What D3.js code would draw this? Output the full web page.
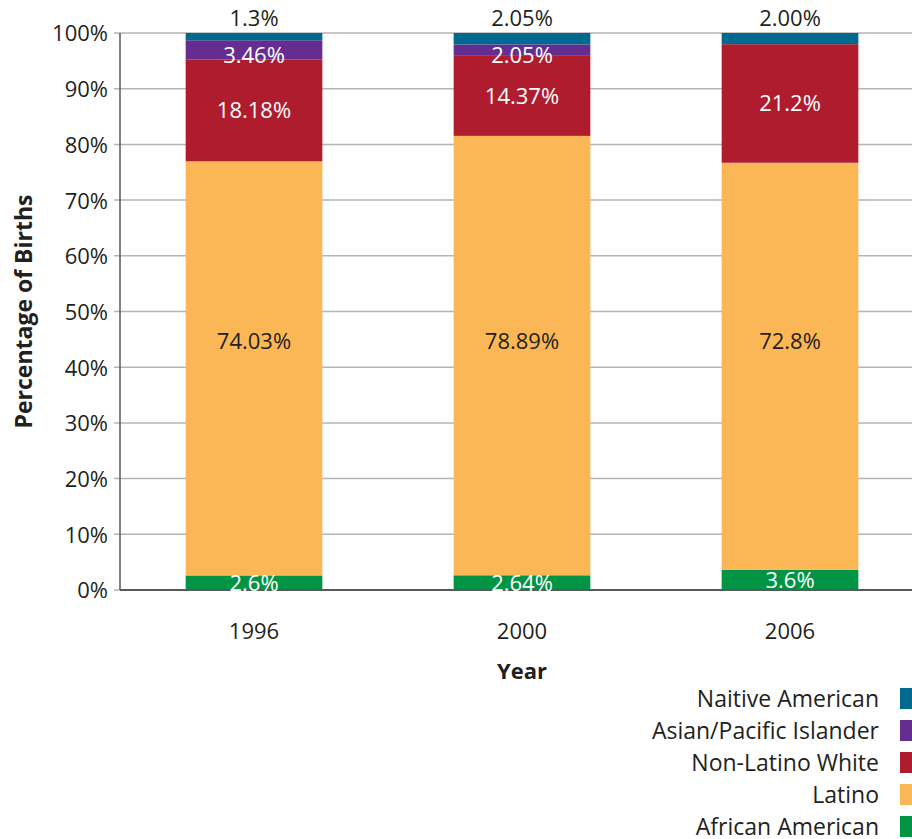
<!DOCTYPE html>
<html>
<head>
<meta charset="utf-8">
<script src="https://cdn.jsdelivr.net/npm/d3@7"></script>
<style>
  body { margin: 0; background: #fff; }
  svg text { font-family: "Open Sans", sans-serif; fill: #231f20; }
</style>
</head>
<body>
<div id="chart"></div>
<script>
let width = 912;
let height = 839;

// data
let years = ["1996", "2000", "2006"];
let groups = ["African American", "Latino", "Non-Latino White", "Asian/Pacific Islander", "Naitive American"];
let colors = ["#009444", "#fbb756", "#ae1c2e", "#662d91", "#00698f"];
let africanAmerican = [2.6, 2.64, 3.6];
let latino = [74.03, 78.89, 72.8];
let nonLatinoWhite = [18.18, 14.37, 21.2];
let asianPacific = [3.46, 2.05, 0];
let nativeAmerican = [1.3, 2.05, 2.0];
let labelAfrican = ["2.6%", "2.64%", "3.6%"];
let labelLatino = ["74.03%", "78.89%", "72.8%"];
let labelWhite = ["18.18%", "14.37%", "21.2%"];
let labelAsian = ["3.46%", "2.05%", ""];
let labelNative = ["1.3%", "2.05%", "2.00%"];
let yTicks = [0, 0.1, 0.2, 0.3, 0.4, 0.5, 0.6, 0.7, 0.8, 0.9, 1];

let margin = {left: 120, top: 33, bottom: 249};

let series = [africanAmerican, latino, nonLatinoWhite, asianPacific, nativeAmerican];
let labels = [labelAfrican, labelLatino, labelWhite, labelAsian, labelNative];

let rows = years.map(function(y, i) {
  let r = {year: y};
  groups.forEach(function(g, k) { r[g] = series[k][i]; });
  return r;
});

// shares of each year's births, so every bar fills to 100%
let stacked = d3.stack().keys(groups).offset(d3.stackOffsetExpand)(rows);

let x = d3.scaleBand()
  .domain(years)
  .range([margin.left, margin.left + 804])
  .paddingInner(0.49)
  .paddingOuter(0.245);

let y = d3.scaleLinear()
  .domain([0, 1])
  .range([height - margin.bottom, margin.top]);

let svg = d3.select("#chart")
  .append("svg")
  .attr("width", width)
  .attr("height", height);

// grid lines
svg.append("g")
  .selectAll("line")
  .data(yTicks)
  .enter().append("line")
    .attr("x1", margin.left - 6)
    .attr("x2", width)
    .attr("y1", function(d) { return y(d); })
    .attr("y2", function(d) { return y(d); })
    .attr("stroke", "#b5b5b5")
    .attr("stroke-width", 1.5);

// y axis
let yAxis = svg.append("g")
  .attr("transform", "translate(" + margin.left + ",0)")
  .call(d3.axisLeft(y).tickValues(yTicks).tickSize(0).tickPadding(12)
    .tickFormat(d3.format(".0%")));
yAxis.select(".domain").remove();
yAxis.selectAll("text")
  .style("font-size", "22px")
  .attr("dy", "0.36em");

// bars
let layer = svg.append("g")
  .selectAll("g")
  .data(stacked)
  .enter().append("g")
    .attr("fill", function(d, i) { return colors[i]; });

layer.selectAll("rect")
  .data(function(d) { return d; })
  .enter().append("rect")
    .attr("x", function(d) { return x(d.data.year); })
    .attr("width", x.bandwidth())
    .attr("y", function(d) { return y(d[1]); })
    .attr("height", function(d) { return y(d[0]) - y(d[1]); });

// axis lines
svg.append("line")
  .attr("x1", margin.left).attr("x2", margin.left)
  .attr("y1", y(1)).attr("y2", y(0))
  .attr("stroke", "#58595b").attr("stroke-width", 1.5);
svg.append("line")
  .attr("x1", margin.left).attr("x2", width)
  .attr("y1", y(0)).attr("y2", y(0))
  .attr("stroke", "#58595b").attr("stroke-width", 2);

// value labels
let labelG = svg.append("g")
  .attr("text-anchor", "middle")
  .style("font-size", "22px");

stacked.forEach(function(s, k) {
  s.forEach(function(d, i) {
    let txt = labels[k][i];
    if (!txt) return;
    let cy;
    let fill = "#fff";
    if (k == 1) {
      cy = y(0.446);
      fill = "#231f20";
    } else if (k == 4) {
      cy = y(d[1]) - 15;
      fill = "#231f20";
    } else if (k == 3) {
      cy = (y(d[0]) + y(d[1])) / 2 + 5;
    } else {
      cy = (y(d[0]) + y(d[1])) / 2;
    }
    labelG.append("text")
      .attr("x", x(d.data.year) + x.bandwidth() / 2)
      .attr("y", cy)
      .attr("dy", "0.36em")
      .style("fill", fill)
      .text(txt);
  });
});

// x axis labels
svg.append("g")
  .selectAll("text")
  .data(years)
  .enter().append("text")
    .attr("x", function(d) { return x(d) + x.bandwidth() / 2; })
    .attr("y", 639)
    .attr("text-anchor", "middle")
    .style("font-size", "22px")
    .text(function(d) { return d; });

// axis titles
svg.append("text")
  .attr("x", x("2000") + x.bandwidth() / 2)
  .attr("y", 679)
  .attr("text-anchor", "middle")
  .style("font-size", "22px")
  .style("font-weight", "bold")
  .text("Year");

svg.append("text")
  .attr("transform", "translate(32," + y(0.5) + ") rotate(-90)")
  .attr("text-anchor", "middle")
  .style("font-size", "23px")
  .style("font-weight", "bold")
  .text("Percentage of Births");

// legend, top entry first
let legendOrder = groups.slice().reverse();
let legend = svg.append("g")
  .selectAll("g")
  .data(legendOrder)
  .enter().append("g")
    .attr("transform", function(d, i) { return "translate(0," + (699 + i * 32) + ")"; });

legend.append("rect")
  .attr("x", 900)
  .attr("y", -11)
  .attr("width", 14)
  .attr("height", 21)
  .attr("fill", function(d) { return colors[groups.indexOf(d)]; });

legend.append("text")
  .attr("x", 879)
  .attr("dy", "0.36em")
  .attr("text-anchor", "end")
  .style("font-size", "23px")
  .text(function(d) { return d; });
</script>
</body>
</html>
